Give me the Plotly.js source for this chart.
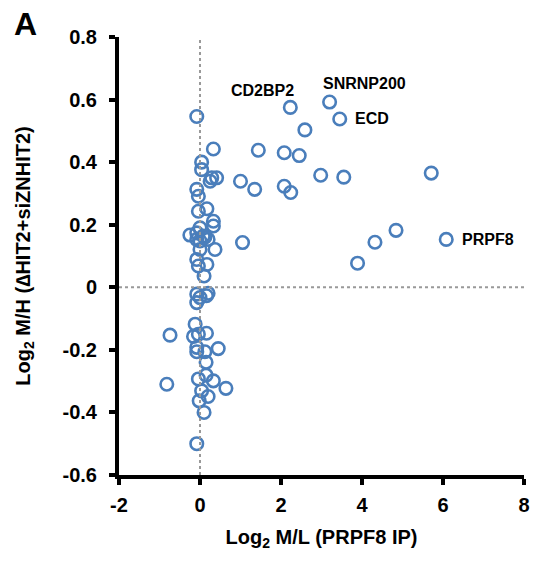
<!DOCTYPE html>
<html>
<head>
<meta charset="utf-8">
<script src="https://cdn.plot.ly/plotly-3.0.1.min.js"></script>
<style>
html,body{margin:0;padding:0;background:#fff;}
#chart{width:533px;height:561px;}
</style>
</head>
<body>
<div id="chart"></div>
<script>
// Log2 M/L (PRPF8 IP)
var xVals = [
  2.23, 3.20, 3.45, 2.59, 1.44, 2.08, 2.45, 1.00, 1.35, 2.08, 2.24, 2.98, 3.55, 5.71, 4.84, 4.32, 1.05, 6.08, 3.89,
  -0.08, 0.33, 0.04, 0.04, 0.29, 0.41, 0.25, -0.08, -0.04, -0.04, 0.17, 0.33, 0.33, -0.25, -0.08, 0.08, 0.20, 0.00,
  0.37, 0.00, -0.08, 0.17, -0.04, 0.10, 0.00, 0.12, -0.08,
  -0.08, 0.20, 0.00, -0.08, 0.16,
  -0.12, -0.74, -0.16, 0.16, -0.04, -0.08, -0.08, 0.12, 0.45,
  0.15, 0.15, -0.04, 0.33, -0.82, 0.64, 0.04, 0.20, -0.02, 0.10, -0.08
];
// Log2 M/H (ΔHIT2+siZNHIT2)
var yVals = [
  0.575, 0.592, 0.538, 0.503, 0.438, 0.430, 0.421, 0.339, 0.313, 0.323, 0.303, 0.358, 0.352, 0.365, 0.182, 0.144, 0.143, 0.153, 0.077,
  0.546, 0.442, 0.400, 0.376, 0.350, 0.350, 0.339, 0.313, 0.291, 0.243, 0.251, 0.211, 0.196, 0.167, 0.174, 0.164, 0.153, 0.148,
  0.121, 0.121, 0.089, 0.073, 0.068, 0.036, 0.190, 0.160, 0.153,
  -0.022, -0.019, -0.033, -0.049, -0.027,
  -0.118, -0.153, -0.157, -0.147, -0.150, -0.192, -0.206, -0.206, -0.196,
  -0.240, -0.281, -0.293, -0.299, -0.310, -0.323, -0.331, -0.349, -0.363, -0.400, -0.500
];
var labelNames = ["CD2BP2", "SNRNP200", "ECD", "PRPF8"];
var labelX = [1.55, 4.06, 3.78, 6.43];
var labelY = [0.630, 0.650, 0.538, 0.153];
var labelAnchor = ["center", "center", "left", "left"];
var xTicks = [-2, 0, 2, 4, 6, 8];
var yTicks = [-0.6, -0.4, -0.2, 0, 0.2, 0.4, 0.6, 0.8];
var yTickText = ["-0.6", "-0.4", "-0.2", "0", "0.2", "0.4", "0.6", "0.8"];

var FONT = "Liberation Sans, Arial, sans-serif";

var trace = {
  x: xVals, y: yVals, type: "scatter", mode: "markers",
  marker: {symbol: "circle-open", size: 12.5, color: "#4A7EBB", line: {width: 2.6, color: "#4A7EBB"}},
  hoverinfo: "skip", showlegend: false
};

var annotations = labelNames.map(function(t, i){
  return {x: labelX[i], y: labelY[i], xref: "x", yref: "y", text: "<b>" + t + "</b>", showarrow: false,
    xanchor: labelAnchor[i], yanchor: "middle", font: {family: FONT, size: 16, color: "#000"}};
});
annotations.push({xref: "paper", yref: "paper", x: -0.264, y: 1.03, xanchor: "left", yanchor: "middle",
  text: "<b>A</b>", showarrow: false, font: {family: FONT, size: 32, color: "#000"}});

var layout = {
  width: 533, height: 561,
  margin: {l: 119, r: 9, t: 37, b: 86},
  paper_bgcolor: "#fff", plot_bgcolor: "#fff",
  font: {family: FONT, color: "#000"},
  xaxis: {
    range: [-2, 8], tickvals: xTicks, ticktext: xTicks.map(String),
    showgrid: false, zeroline: false, showline: true, linewidth: 4, linecolor: "#000",
    ticks: "outside", ticklen: 6, tickwidth: 4, tickcolor: "#000",
    tickfont: {family: FONT, size: 20, weight: "bold"},
    ticklabelstandoff: 3,
    title: {text: "<b>Log<sub>2</sub> M/L (PRPF8 IP)</b>", font: {family: FONT, size: 20}, standoff: 16}
  },
  yaxis: {
    range: [-0.6, 0.8], tickvals: yTicks, ticktext: yTickText,
    showgrid: false, zeroline: false, showline: true, linewidth: 4, linecolor: "#000",
    ticks: "outside", ticklen: 6, tickwidth: 4, tickcolor: "#000",
    tickfont: {family: FONT, size: 20, weight: "bold"},
    ticklabelstandoff: 8,
    title: {text: "<b>Log<sub>2</sub> M/H (∆HIT2+siZNHIT2)</b>", font: {family: FONT, size: 20}, standoff: 28}
  },
  shapes: [
    {type: "line", xref: "x", yref: "paper", x0: 0, x1: 0, y0: 0, y1: 1, line: {color: "#999", width: 2, dash: "dot"}},
    {type: "line", xref: "paper", yref: "y", x0: 0, x1: 1, y0: 0, y1: 0, line: {color: "#999", width: 2, dash: "dot"}}
  ],
  annotations: annotations
};

Plotly.newPlot("chart", [trace], layout, {displayModeBar: false, staticPlot: true});
</script>
</body>
</html>
